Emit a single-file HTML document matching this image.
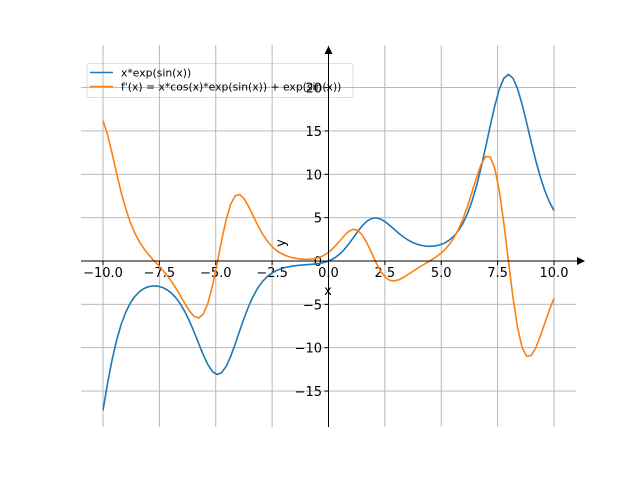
<!DOCTYPE html>
<html><head><meta charset="utf-8"><style>body{margin:0;background:#fff}svg{display:block}text{font-family:"DejaVu Sans","Liberation Sans",sans-serif;font-size:13px;fill:#000}</style></head>
<body>
<svg id="s" width="640" height="480" xmlns="http://www.w3.org/2000/svg">
<rect x="87" y="63.5" width="266" height="34" fill="#fff" stroke="#ddd" stroke-width="1" rx="2"/>
<g id="grid" stroke="#b0b0b0" stroke-width="0.9"></g>
<line x1="90" y1="72.5" x2="113" y2="72.5" stroke="#1f77b4" stroke-width="1.6"/>
<line x1="90" y1="86.5" x2="113" y2="86.5" stroke="#ff7f0e" stroke-width="1.6"/>
<text x="121" y="76.5" style="font-size:10.8px">x*exp(sin(x))</text>
<text x="121" y="90.5" style="font-size:10.8px">f'(x) = x*cos(x)*exp(sin(x)) + exp(sin(x))</text>
<g id="ticks"></g>
<path id="p1" fill="none" stroke="#1f77b4" stroke-width="1.6" stroke-linejoin="round"/>
<path id="p2" fill="none" stroke="#ff7f0e" stroke-width="1.6" stroke-linejoin="round"/>
<line x1="81" y1="261" x2="580" y2="261" stroke="#000" stroke-width="1"/>
<polygon points="585,261 577,257 577,265" fill="#000"/>
<line x1="328.5" y1="427" x2="328.5" y2="52" stroke="#000" stroke-width="1"/>
<polygon points="328.5,46 324.5,54 332.5,54" fill="#000"/>
<text x="328" y="295" text-anchor="middle">x</text>
<text transform="translate(285,243) rotate(-90)" text-anchor="middle">y</text>
</svg>
<script>
var X=function(x){return 328.5+22.55*x},Y=function(y){return 261-8.67*y};
var g=document.getElementById('grid'),t=document.getElementById('ticks'),h='',tt='';
for(var k=-4;k<=4;k++){var v=k*2.5,px=X(v);h+='<line x1="'+px+'" y1="45" x2="'+px+'" y2="427"/>';
tt+='<line x1="'+px+'" y1="261" x2="'+px+'" y2="265" stroke="#000"/><text x="'+px+'" y="277" text-anchor="middle">'+(v<0?'\u2212':'')+Math.abs(v).toFixed(1)+'</text>';}
for(var v=-15;v<=20;v+=5){var py=Y(v);h+='<line x1="81" y1="'+py+'" x2="576" y2="'+py+'"/>';
tt+='<line x1="324.5" y1="'+py+'" x2="328.5" y2="'+py+'" stroke="#000"/><text x="322" y="'+(py+5)+'" text-anchor="end">'+(v<0?'\u2212':'')+Math.abs(v)+'</text>';}
g.innerHTML=h;t.innerHTML=tt;
var a='',b='',N=99;for(var i=0;i<=N;i++){var x=-10+20*i/N,e=Math.exp(Math.sin(x));
a+=(i?'L':'M')+X(x).toFixed(2)+','+Y(x*e).toFixed(2);b+=(i?'L':'M')+X(x).toFixed(2)+','+Y(x*Math.cos(x)*e+e).toFixed(2);}
document.getElementById('p1').setAttribute('d',a);document.getElementById('p2').setAttribute('d',b);
</script>
</body></html>
